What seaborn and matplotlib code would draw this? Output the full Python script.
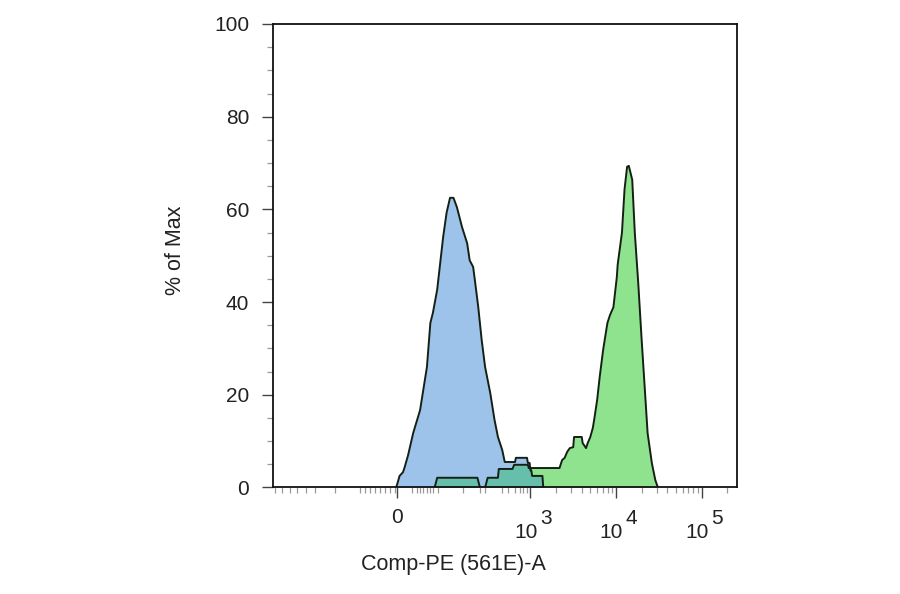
import numpy as np
import matplotlib
matplotlib.use("Agg")
import matplotlib.pyplot as plt
import matplotlib.transforms as mtransforms
import seaborn as sns

# histogram outlines, x in display decades (biexponential axis), y in % of max
blue_x = [1.43, 1.45, 1.47, 1.51, 1.53, 1.57, 1.63, 1.71, 1.79, 1.83, 1.86, 1.91,
          1.94, 1.98, 2.02, 2.06, 2.10, 2.14, 2.20, 2.26, 2.29, 2.33, 2.35, 2.39,
          2.43, 2.47, 2.53, 2.58, 2.62, 2.67, 2.70, 2.82, 2.83, 2.96, 2.97, 2.99,
          3.00, 3.01, 3.02, 3.14, 3.15]
blue_y = [0, 1.2, 2.5, 3.3, 4.4, 7.0, 11.8, 16.7, 26.0, 35.5, 37.7, 42.7,
          47.6, 54.1, 59.3, 62.5, 62.5, 60.5, 56.2, 52.7, 49.0, 47.6, 44.8, 38.9,
          31.8, 26.0, 20.4, 14.6, 10.9, 8.1, 5.5, 5.5, 6.4, 6.4, 5.3, 5.3,
          3.7, 3.7, 2.5, 2.5, 0]

green_x = [1.88, 1.91, 2.38, 2.41, 2.47, 2.50, 2.62, 2.63, 2.79, 2.81, 2.97, 2.98,
           3.34, 3.37, 3.40, 3.43, 3.46, 3.50, 3.51, 3.60, 3.61, 3.65, 3.67, 3.70,
           3.73, 3.75, 3.78, 3.81, 3.85, 3.90, 3.93, 3.97, 4.01, 4.02, 4.07, 4.10,
           4.13, 4.15, 4.19, 4.22, 4.26, 4.30, 4.34, 4.37, 4.42, 4.46, 4.49]
green_y = [0, 2.1, 2.1, 0, 0, 2.1, 2.1, 4.0, 4.0, 4.9, 4.9, 4.2,
           4.2, 5.9, 6.4, 7.7, 8.5, 8.7, 10.9, 10.9, 9.6, 8.5, 9.6, 10.9,
           12.9, 15.2, 18.9, 23.9, 29.7, 35.5, 37.2, 38.9, 45.4, 48.1, 55.0, 64.3,
           69.2, 69.4, 66.4, 55.0, 44.2, 31.9, 20.4, 11.7, 5.2, 1.6, 0]

x_ticks = [1.44, 3, 4, 5]
x_labels = ["0", "10", "10", "10"]
x_exponents = [None, "3", "4", "5"]
y_ticks = [0, 20, 40, 60, 80, 100]

blue_fill = "#9dc3eb"
green_fill = "#8fe38f"
teal_fill = "#66bfab"
edge = "#142014"
text_col = "#222222"

sns.set_style("white")
plt.rcParams["font.family"] = ["Liberation Sans", "DejaVu Sans"]

fig = plt.figure(figsize=(9, 5.94), dpi=100)
ax = fig.add_axes([0.3033, 0.1793, 0.5156, 0.7803])

ax.fill_between(blue_x, blue_y, color=blue_fill, lw=0)
ax.fill_between(green_x, green_y, color=green_fill, lw=0)

# overlap of the two histograms
grid = np.linspace(1.4, 4.5, 4000)
overlap = np.minimum(np.interp(grid, blue_x, blue_y), np.interp(grid, green_x, green_y))
ax.fill_between(grid, overlap, color=teal_fill, lw=0)

sns.lineplot(x=blue_x, y=blue_y, sort=False, estimator=None, color=edge, lw=1.4, ax=ax)
sns.lineplot(x=green_x, y=green_y, sort=False, estimator=None, color=edge, lw=1.4, ax=ax)

ax.set_xlim(-0.01, 5.415)
ax.set_ylim(0, 100)

# minor ticks: biexponential region around zero, then log decades
minor_x = [0.012, 0.094, 0.187, 0.269, 0.374, 0.48, 0.713, 1.006, 1.064, 1.123,
           1.181, 1.24, 1.298, 1.357, 1.415, 1.614, 1.673, 1.708, 1.743, 1.789,
           1.825, 1.86, 1.918, 2.211, 2.409, 2.468, 2.667, 2.737, 2.819, 2.877,
           2.912, 2.959]
for d in (3, 4):
    minor_x += [d + np.log10(k) for k in range(2, 10)]
minor_x.append(5 + np.log10(2))

ax.set_xticks(x_ticks)
ax.set_xticklabels(x_labels)
ax.set_xticks(minor_x, minor=True)
ax.set_yticks(y_ticks)
ax.set_yticks(np.arange(0, 101, 5), minor=True)

ax.tick_params(axis="both", which="major", direction="out", length=8, width=1.0,
               color="#444444", labelsize=15, labelcolor=text_col)
ax.tick_params(axis="both", which="minor", direction="out", length=4.3, width=0.9,
               color="#999999")
ax.tick_params(axis="x", which="major", pad=6.5)
ax.tick_params(axis="y", which="major", pad=9)
ax.tick_params(bottom=True, left=True, top=False, right=False)
ax.tick_params(axis="both", which="minor", bottom=True, left=True, top=False, right=False)

# power-of-ten labels: "10" sits lower, exponent drawn at full size
shift = mtransforms.ScaledTranslation(-4.5 / 100, -15 / 100, fig.dpi_scale_trans)
for lab in ax.get_xticklabels()[1:]:
    lab.set_transform(lab.get_transform() + shift)

exp_tr = ax.get_xaxis_transform() + mtransforms.ScaledTranslation(
    9.5 / 100, -21.5 / 100, fig.dpi_scale_trans)
for xt, ex in zip(x_ticks, x_exponents):
    if ex:
        ax.text(xt, 0, ex, transform=exp_tr, ha="left", va="top",
                fontsize=15, color=text_col)

for s in ax.spines.values():
    s.set_color("#111111")
    s.set_linewidth(1.3)

ax.set_xlabel("Comp-PE (561E)-A", fontsize=15.5, color=text_col)
ax.xaxis.set_label_coords(0.388, -0.167)
ax.xaxis.label.set_va("center")
ax.set_ylabel("% of Max", fontsize=15.5, color=text_col)
ax.yaxis.set_label_coords(-0.211, 0.512)
ax.yaxis.label.set_va("center")

fig.savefig("out.png", dpi=100, facecolor="white")
